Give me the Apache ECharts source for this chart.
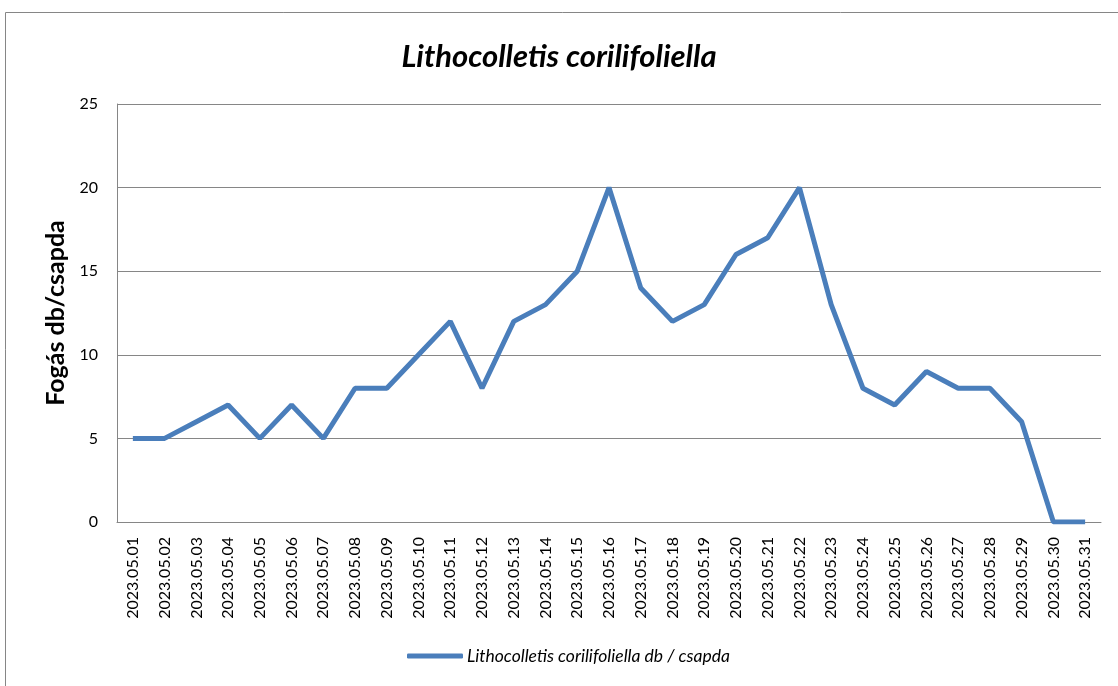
<!DOCTYPE html>
<html>
<head>
<meta charset="utf-8">
<script src="https://cdn.jsdelivr.net/npm/echarts@6/dist/echarts.min.js"></script>
<style>
html, body { margin: 0; padding: 0; background: #fff; }
#chart { width: 1118px; height: 686px; }
</style>
</head>
<body>
<div id="chart"></div>
<script>
var dates = ['2023.05.01', '2023.05.02', '2023.05.03', '2023.05.04', '2023.05.05', '2023.05.06',
    '2023.05.07', '2023.05.08', '2023.05.09', '2023.05.10', '2023.05.11', '2023.05.12',
    '2023.05.13', '2023.05.14', '2023.05.15', '2023.05.16', '2023.05.17', '2023.05.18',
    '2023.05.19', '2023.05.20', '2023.05.21', '2023.05.22', '2023.05.23', '2023.05.24',
    '2023.05.25', '2023.05.26', '2023.05.27', '2023.05.28', '2023.05.29', '2023.05.30',
    '2023.05.31'];
var catches = [5, 5, 6, 7, 5, 7, 5, 8, 8, 10, 12, 8, 12, 13, 15, 20, 14, 12, 13, 16, 17, 20,
    13, 8, 7, 9, 8, 8, 6, 0, 0];
var seriesName = 'Lithocolletis corilifoliella db / csapda';

var myChart = echarts.init(document.getElementById('chart'));
var font = 'Lato, "Open Sans", sans-serif';
var option = {
    animation: false,
    graphic: [{
        type: 'rect',
        shape: { x: 5.5, y: 12.5, width: 1130, height: 700 },
        style: { fill: 'none', stroke: '#868686', lineWidth: 1 }
    }],
    title: {
        text: 'Lithocolletis corilifoliella',
        left: 'center',
        top: 36,
        textStyle: { fontFamily: font, fontSize: 31, fontWeight: 'bold', fontStyle: 'italic', color: '#000' }
    },
    legend: {
        bottom: 16,
        left: 402,
        icon: 'roundRect',
        itemWidth: 56,
        itemHeight: 5,
        itemGap: 4,
        data: [seriesName],
        textStyle: { fontFamily: font, fontSize: 17.5, fontStyle: 'italic', color: '#000', padding: [0, 0, 0, -1] }
    },
    grid: { left: 117, right: 17, top: 104, bottom: 164 },
    xAxis: {
        type: 'category',
        data: dates,
        boundaryGap: true,
        axisLine: { lineStyle: { color: '#868686' } },
        axisTick: { show: false },
        axisLabel: { rotate: 90, interval: 0, margin: 15, fontFamily: font, fontSize: 16, color: '#000' }
    },
    yAxis: {
        type: 'value',
        min: 0,
        max: 25,
        interval: 5,
        name: 'Fogás db/csapda',
        nameLocation: 'middle',
        nameGap: 46,
        nameTextStyle: { fontFamily: font, fontSize: 25, fontWeight: 'bold', color: '#000' },
        axisLine: { show: true, lineStyle: { color: '#868686' } },
        axisTick: { show: false },
        axisLabel: { margin: 19, fontFamily: font, fontSize: 16, color: '#000' },
        splitLine: { lineStyle: { color: '#868686' } }
    },
    series: [{
        name: seriesName,
        type: 'line',
        data: catches,
        symbol: 'none',
        lineStyle: { width: 5, color: '#4a7ebb' },
        itemStyle: { color: '#4a7ebb' }
    }]
};
myChart.setOption(option);
</script>
</body>
</html>
